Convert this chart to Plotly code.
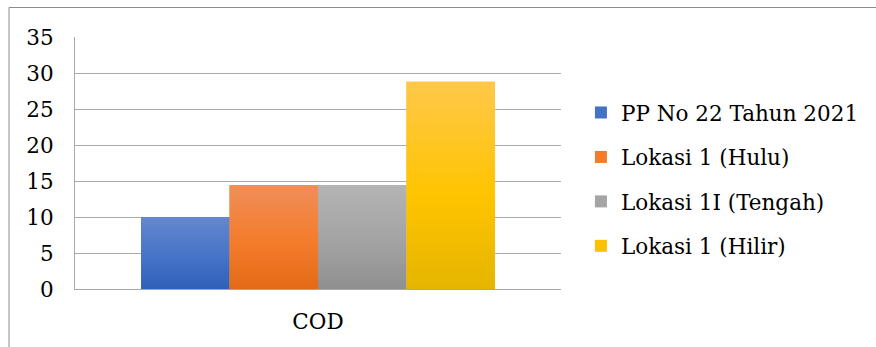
import plotly.graph_objects as go

# Data
categories = ["COD"]
series_names = ["PP No 22 Tahun 2021", "Lokasi 1 (Hulu)", "Lokasi 1I (Tengah)", "Lokasi 1 (Hilir)"]
series_values = [[10.0], [14.4], [14.4], [28.8]]
y_ticks = [0, 5, 10, 15, 20, 25, 30, 35]

# Gradient stops per series: bottom, middle, top
base_colors = ["#4472c4", "#f47b28", "#a5a5a5", "#ffc000"]
gradients = [
    ["#2f60b8", "#4574c8", "#6587ce"],
    ["#e46a17", "#f47c2b", "#f08e59"],
    ["#8f8f8f", "#a3a3a3", "#b4b4b4"],
    ["#e5b500", "#ffc400", "#ffc84a"],
]

bargap = 0.272
n = len(series_names)
group_w = 1 - bargap
bar_w = group_w / n

W, H = 876, 347
ml, mr, mt, mb = 75, 315, 37, 58

fig = go.Figure()

for i, (name, vals) in enumerate(zip(series_names, series_values)):
    fig.add_trace(go.Bar(
        x=list(range(len(categories))), y=vals, name=name,
        marker=dict(color=base_colors[i], line=dict(width=0)),
        legendgroup=f"g{i}",
    ))

# Gradient fill over each bar, same values and group layout
for i, vals in enumerate(series_values):
    for c, v in enumerate(vals):
        x0 = c - group_w / 2 + i * bar_w
        x1 = x0 + bar_w
        b, m, t = gradients[i]
        fig.add_trace(go.Scatter(
            x=[x0, x0, x1, x1, x0], y=[0, v, v, 0, 0],
            mode="lines", line=dict(width=0), fill="toself",
            fillgradient=dict(type="vertical", start=0, stop=v,
                              colorscale=[[0, b], [0.45, m], [1, t]]),
            showlegend=False, hoverinfo="skip",
        ))

font_family = "DejaVu Serif"
fs = 21.5

fig.update_layout(
    width=W, height=H,
    margin=dict(l=ml, r=mr, t=mt, b=mb, pad=0, autoexpand=False),
    paper_bgcolor="white", plot_bgcolor="white",
    barmode="group", bargap=bargap, bargroupgap=0,
    font=dict(family=font_family, size=fs, color="black"),
    showlegend=True,
    legend=dict(
        x=1.041, y=(289 - 92) / 252, xanchor="left", yanchor="top",
        font=dict(family=font_family, size=fs, color="black"),
        tracegroupgap=13.5, bgcolor="rgba(0,0,0,0)",
        traceorder="grouped",
    ),
    xaxis=dict(
        range=[-0.5, len(categories) - 0.5],
        tickvals=list(range(len(categories))), ticktext=categories,
        showgrid=False, zeroline=False, automargin=False,
        showline=True, linecolor="#a6a6a6", linewidth=1,
        ticks="", ticklabelstandoff=13,
        tickfont=dict(family=font_family, size=fs, color="black"),
    ),
    yaxis=dict(
        range=[0, 35], tickvals=y_ticks, automargin=False,
        showgrid=True, gridcolor="#aaaaaa", gridwidth=1,
        zeroline=False,
        showline=True, linecolor="#aaaaaa", linewidth=1,
        ticks="", ticklabelstandoff=16,
        tickfont=dict(family=font_family, size=fs, color="black"),
    ),
    shapes=[dict(
        type="rect", xref="paper", yref="paper",
        x0=(9 - ml) / (W - ml - mr), x1=2.0,
        y0=-1.0, y1=(289 - 7.5) / (H - mt - mb),
        line=dict(color="#8c8c8c", width=1), fillcolor="rgba(0,0,0,0)",
        layer="below",
    )],
)

fig.write_html("out.html")
